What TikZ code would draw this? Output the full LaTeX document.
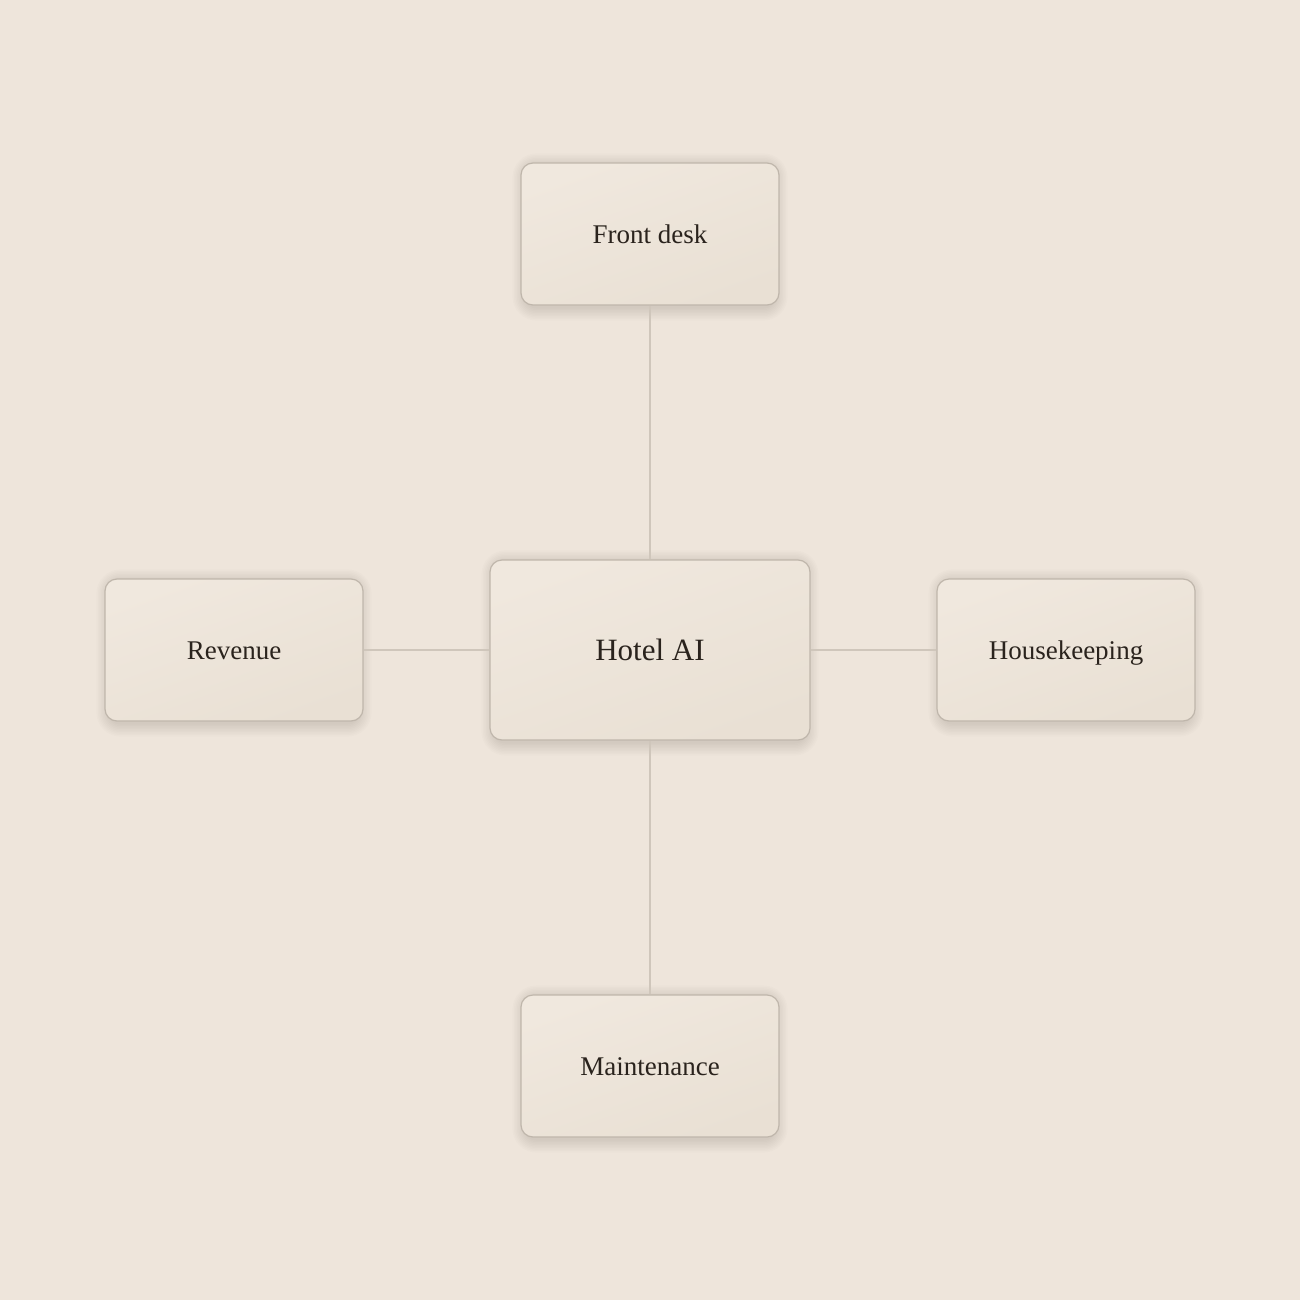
\documentclass[tikz,border=0pt]{standalone}
\usepackage{fontspec}
\setmainfont{Liberation Serif}
\definecolor{bgc}{HTML}{EEE5DB}
\definecolor{boxtop}{HTML}{F0E8DE}
\definecolor{boxbot}{HTML}{E9E0D4}
\definecolor{boxline}{HTML}{BFB6AB}
\definecolor{linkc}{HTML}{CFC6BB}
\definecolor{txt}{HTML}{2A231D}
\pgfdeclarelayer{background}
\pgfsetlayers{background,main}
\tikzset{
  card/.style={draw=boxline, line width=1.2pt, rounded corners=12pt,
    top color=boxtop, bottom color=boxbot, shading angle=20,
    minimum width=258pt, minimum height=142pt, inner sep=0pt,
    text height=18pt, text depth=0pt,
    text=txt, font=\fontsize{27}{30}\selectfont},
  hubcard/.style={card, minimum width=320pt, minimum height=180pt,
    text height=20.5pt, font=\fontsize{31}{36}\selectfont},
  link/.style={draw=linkc, line width=1.3pt},
  softshadow/.style={fill=black, opacity=0.011}
}
\newcommand{\cardshadow}[1]{%
  \begin{pgfonlayer}{background}
  \foreach \s in {0,1.5,...,12}{
    \fill[softshadow, rounded corners={12pt+\s pt}]
      ([xshift=-\s pt+4pt, yshift=-\s pt-3pt]#1.south west) rectangle
      ([xshift=\s pt-4pt, yshift=\s pt-3pt]#1.north east);
  }
  \end{pgfonlayer}}
\begin{document}
\begin{tikzpicture}[x=1pt,y=-1pt]
\begin{pgfonlayer}{background}
\fill[bgc] (0,0) rectangle (1300,1300);
\end{pgfonlayer}
\node[hubcard] (hub) at (650,650) {Hotel AI};
\node[card] (fd) at (650,234) {Front desk};
\node[card] (rev) at (234,650) {Revenue};
\node[card] (hk) at (1066,650) {Housekeeping};
\node[card] (mt) at (650,1066) {Maintenance};
\cardshadow{hub}
\cardshadow{fd}
\cardshadow{rev}
\cardshadow{hk}
\cardshadow{mt}
\draw[link] (fd.south) -- (hub.north);
\draw[link] (hub.south) -- (mt.north);
\draw[link] (rev.east) -- (hub.west);
\draw[link] (hub.east) -- (hk.west);
\useasboundingbox (0,0) rectangle (1300,1300);
\end{tikzpicture}
\end{document}
